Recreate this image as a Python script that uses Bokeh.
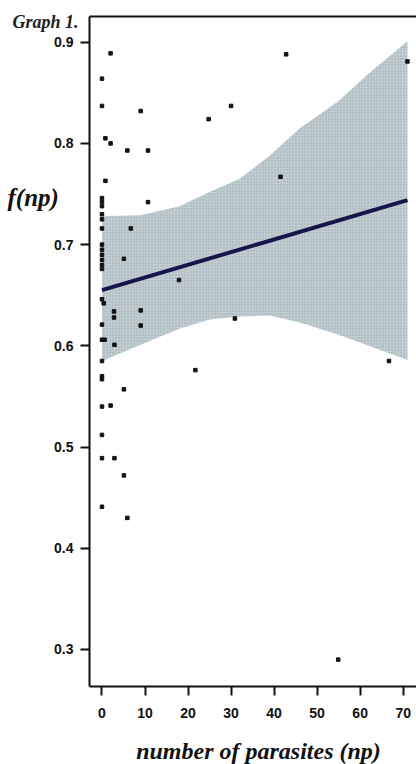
from bokeh.plotting import figure
from bokeh.models import Range1d, LinearAxis, FixedTicker, Label
from bokeh.embed import file_html
from bokeh.resources import INLINE

# ---- data ----
points_x = [2.0, 0, 0, 9.0, 30.0, 24.8, 42.8, 71.0, 0.8, 2.0, 5.9, 10.7, 0.8,
            0, 0, 0, 10.7, 0, 0, 0, 6.7, 41.5, 0, 0, 0, 0, 5.1, 0, 0, 17.9,
            0, 0.4, 2.8, 9.0, 2.8, 0, 9.0, 30.9, 0, 0.6, 2.9, 0, 0, 0, 21.7,
            5.1, 0, 2.0, 0, 0, 2.9, 5.1, 0, 5.9, 54.9, 66.7]
points_y = [0.889, 0.864, 0.837, 0.832, 0.837, 0.824, 0.888, 0.881, 0.805,
            0.800, 0.793, 0.793, 0.763, 0.746, 0.742, 0.738, 0.742, 0.730,
            0.725, 0.716, 0.716, 0.767, 0.700, 0.695, 0.690, 0.685, 0.686,
            0.680, 0.676, 0.665, 0.646, 0.642, 0.634, 0.635, 0.628, 0.621,
            0.620, 0.627, 0.606, 0.606, 0.601, 0.585, 0.570, 0.567, 0.576,
            0.557, 0.540, 0.541, 0.512, 0.489, 0.489, 0.472, 0.441, 0.430,
            0.290, 0.585]

fit_x = [0, 71]
fit_y = [0.655, 0.744]

band_x = [0, 9, 18, 25, 32, 39, 46, 55, 62, 71]
band_upper = [0.728, 0.729, 0.738, 0.752, 0.765, 0.788, 0.815, 0.842, 0.869, 0.901]
band_lower = [0.585, 0.601, 0.617, 0.626, 0.629, 0.630, 0.623, 0.611, 0.600, 0.586]

x_ticks = [0, 10, 20, 30, 40, 50, 60, 70]
y_ticks = [0.3, 0.4, 0.5, 0.6, 0.7, 0.8, 0.9]
y_tick_labels = ["0.3", "0.4", "0.5", "0.6", "0.7", "0.8", "0.9"]

title_text = "Graph 1."
y_label = "f(np)"
x_label = "number of parasites (np)"

# ---- layout (axes box in canvas pixels) ----
W, H = 416, 764
FL, FR, FT, FB = 89, 416, 16, 686
ax_x0, ax_x1 = -2.9, 73.1
ax_y0, ax_y1 = 0.2634, 0.9254
sx = (ax_x1 - ax_x0) / (FR - FL)
sy = (ax_y1 - ax_y0) / (FB - FT)

def dx(px):
    return ax_x0 + (px - FL) * sx

def dy(py):
    return ax_y1 - (py - FT) * sy

p = figure(width=W, height=H,
           x_range=Range1d(dx(0), dx(W)), y_range=Range1d(dy(H), dy(0)),
           output_backend="svg", toolbar_location=None,
           x_axis_location=None, y_axis_location=None,
           min_border=0)
p.outline_line_color = None
p.background_fill_color = "white"
p.border_fill_color = "white"
p.grid.grid_line_color = None
p.grid.visible = False

# confidence band
p.varea(x=band_x, y1=band_lower, y2=band_upper, fill_color="#c0cdd1",
        fill_alpha=1.0, hatch_pattern="dot", hatch_color="#86969c",
        hatch_scale=3, hatch_weight=1, hatch_alpha=0.6)
# regression line
p.line(fit_x, fit_y, line_color="#16164a", line_width=4)
# points
p.scatter(points_x, points_y, marker="square", size=3.5, fill_color="#111111",
          line_color="#111111")

def style(ax, standoff):
    ax.axis_line_width = 2
    ax.axis_line_color = "#111111"
    ax.major_tick_line_width = 2
    ax.major_tick_line_color = "#111111"
    ax.major_tick_out = 9
    ax.major_tick_in = 0
    ax.minor_tick_line_color = None
    ax.major_label_text_font = "Liberation Sans"
    ax.major_label_text_font_style = "bold"
    ax.major_label_text_font_size = "14px"
    ax.major_label_text_color = "#111111"
    ax.major_label_standoff = standoff

xaxis = LinearAxis(ticker=FixedTicker(ticks=x_ticks), fixed_location=ax_y0,
                   bounds=(ax_x0, ax_x1))
style(xaxis, 12)
p.add_layout(xaxis, "below")

yaxis = LinearAxis(ticker=FixedTicker(ticks=y_ticks), fixed_location=ax_x0,
                   bounds=(ax_y0, ax_y1),
                   major_label_overrides={t: l for t, l in zip(y_ticks, y_tick_labels)})
style(yaxis, 7)
p.add_layout(yaxis, "left")

top_axis = LinearAxis(ticker=FixedTicker(ticks=[]), fixed_location=ax_y1,
                      bounds=(ax_x0, ax_x1), major_label_text_font_size="0px",
                      major_tick_line_color=None, minor_tick_line_color=None,
                      axis_line_width=2, axis_line_color="#111111")
p.add_layout(top_axis, "above")

serif = "Liberation Serif"
p.add_layout(Label(x=dx(12), y=dy(21), text=title_text, text_font=serif,
                   text_font_style="bold italic", text_font_size="18px",
                   text_color="#222222", text_baseline="alphabetic"))
p.add_layout(Label(x=dx(7), y=dy(197), text=y_label, text_font=serif,
                   text_font_style="bold italic", text_font_size="25px",
                   text_color="#111111", text_baseline="middle"))
p.add_layout(Label(x=dx(258), y=dy(750), text=x_label, text_font=serif,
                   text_font_style="bold italic", text_font_size="24px",
                   text_color="#111111", text_align="center",
                   text_baseline="alphabetic"))

open("out.html", "w").write(file_html(p, INLINE))
